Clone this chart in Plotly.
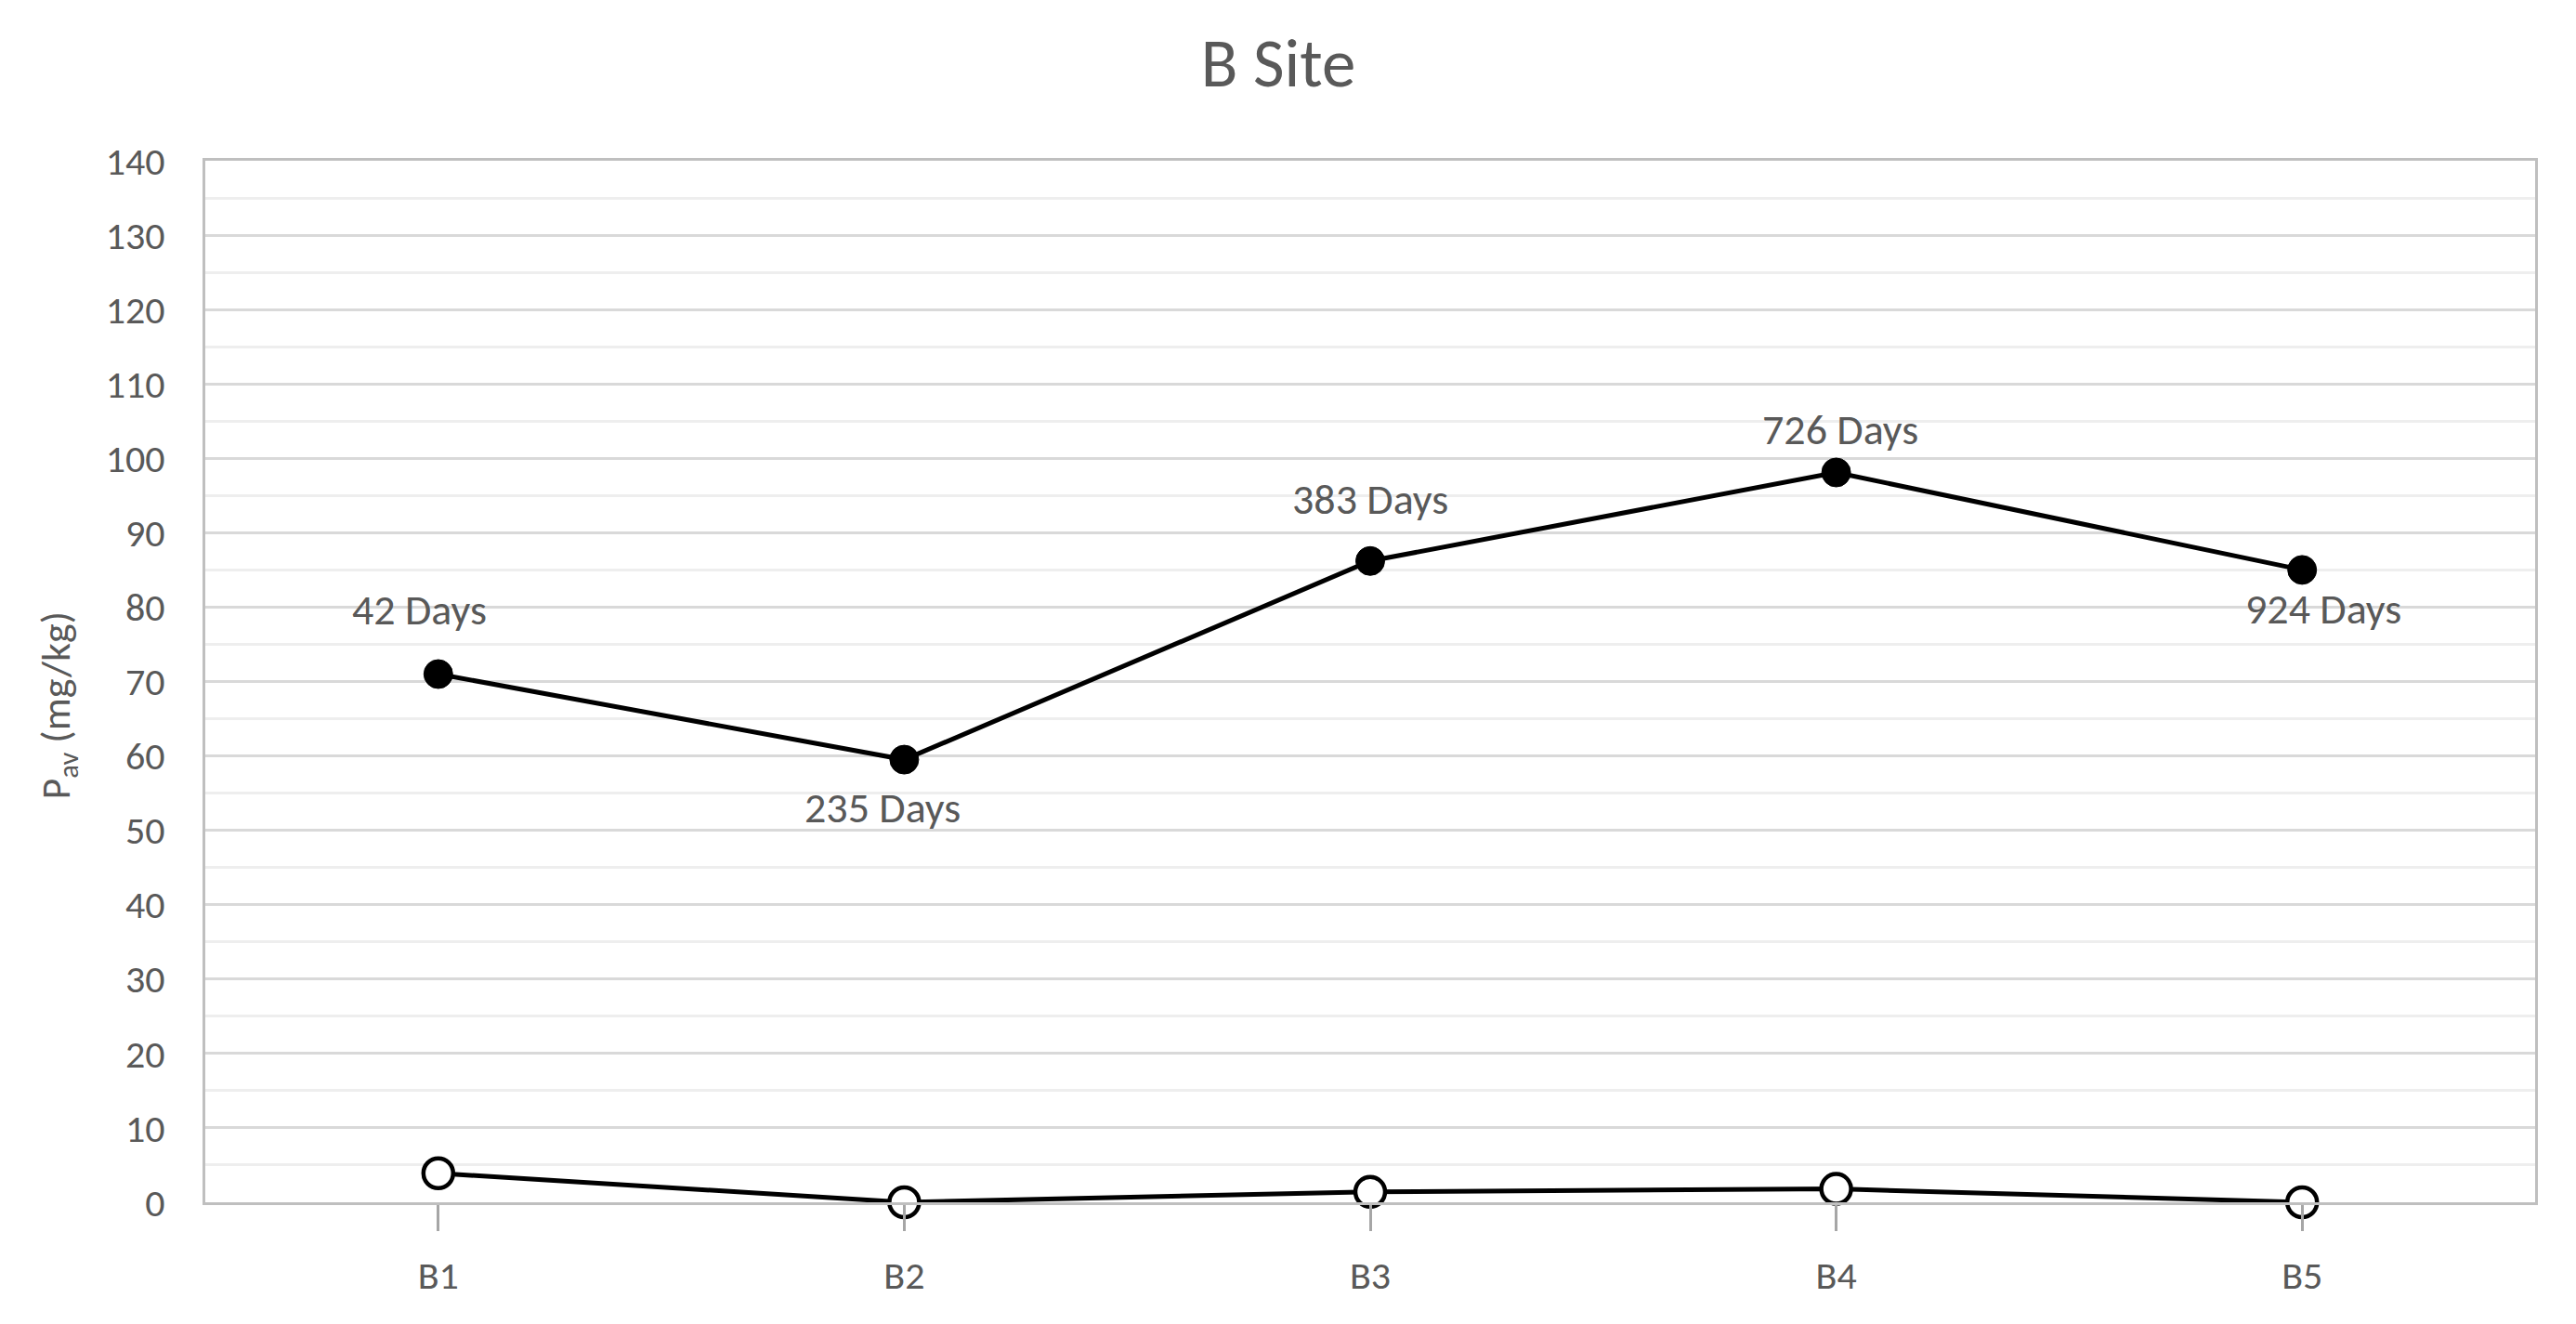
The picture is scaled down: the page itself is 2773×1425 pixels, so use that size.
import plotly.graph_objects as go

# ---- data ----
categories = ["B1", "B2", "B3", "B4", "B5"]
pav_filled = [71.0, 59.5, 86.2, 98.1, 85.0]
pav_open = [3.9, 0.0, 1.4, 1.8, 0.0]
day_labels = ["42 Days", "235 Days", "383 Days", "726 Days", "924 Days"]
y_ticks = list(range(0, 141, 10))
y_title = "P<sub>av</sub> (mg/kg)"

# ---- styles ----
FONT = "Carlito, Lato, 'Open Sans', sans-serif"
TXT = "#595959"
label_shift = [(-20, 69), (-23, -51), (0, 67), (4, 47), (23, -42)]

fig = go.Figure()

fig.add_trace(go.Scatter(
    x=categories, y=pav_filled, mode="lines+markers",
    line=dict(color="black", width=5),
    marker=dict(symbol="circle", size=31, color="black",
                line=dict(color="black", width=1)),
    showlegend=False, cliponaxis=False,
))
fig.add_trace(go.Scatter(
    x=categories, y=pav_open, mode="lines+markers",
    line=dict(color="black", width=5),
    marker=dict(symbol="circle", size=32, color="white",
                line=dict(color="black", width=4.5)),
    showlegend=False, cliponaxis=False,
))

for cat, val, txt, (dx, dy) in zip(categories, pav_filled, day_labels, label_shift):
    fig.add_annotation(
        x=cat, y=val, text=txt, showarrow=False,
        xshift=dx, yshift=dy,
        font=dict(family=FONT, size=46, color=TXT),
    )

# y-axis title (placed like the reference: slightly below the plot centre)
fig.add_annotation(
    x=0, xref="paper", xanchor="center", xshift=-159,
    y=0.5, yref="paper", yanchor="middle", yshift=-26,
    text=y_title, textangle=-90, showarrow=False,
    font=dict(family=FONT, size=44, color=TXT),
)

fig.update_layout(
    width=2773, height=1425,
    margin=dict(l=221, r=44, t=173, b=131),
    paper_bgcolor="white", plot_bgcolor="white",
    title=dict(text="B Site", x=1376 / 2773, xref="container", xanchor="center",
               y=1 - 67 / 1425, yref="container", yanchor="middle",
               font=dict(family=FONT, size=73, color=TXT)),
    font=dict(family=FONT, color=TXT),
)

fig.update_xaxes(
    type="category", range=[-0.5, 4.5], automargin=False,
    showgrid=False, zeroline=False,
    showline=True, mirror=True, linecolor="#bfbfbf", linewidth=3,
    ticks="outside", ticklen=28, tickwidth=3, tickcolor="#a6a6a6",
    ticklabelstandoff=12,
    tickfont=dict(family=FONT, size=42, color=TXT),
)

fig.update_yaxes(
    range=[0, 140], tickvals=y_ticks, ticktext=[str(v) for v in y_ticks],
    automargin=False,
    showgrid=True, gridcolor="#d9d9d9", gridwidth=3,
    minor=dict(dtick=5, showgrid=True, gridcolor="#eeeeee", gridwidth=2.5, ticks=""),
    zeroline=False,
    showline=True, mirror=True, linecolor="#bfbfbf", linewidth=3,
    ticks="", ticklabelstandoff=32,
    tickfont=dict(family=FONT, size=42, color=TXT),
)

fig.write_html("out.html", config={"displayModeBar": False},
               post_script="document.body.style.margin='0';document.body.style.overflow='hidden';")
